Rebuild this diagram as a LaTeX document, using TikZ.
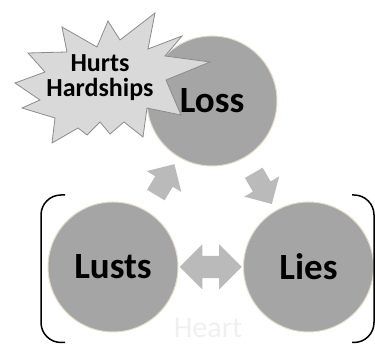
\documentclass[tikz,border=0pt]{standalone}
\usepackage{fontspec}
\setmainfont{Carlito}
\usetikzlibrary{positioning,calc,shapes.arrows}

\definecolor{circgray}{HTML}{A5A5A5}
\definecolor{rimcol}{HTML}{E4DCC8}
\definecolor{arrowgray}{HTML}{BABABA}
\definecolor{burstfill}{HTML}{D9D9D9}
\definecolor{burstline}{HTML}{8C8C8C}
\definecolor{heartgray}{HTML}{F0F0F0}

\begin{document}
\begin{tikzpicture}[
  x=1pt, y=1pt,
  bubble/.style={
        circle,
        fill=circgray,
        draw=rimcol,
        line width=1pt,
        minimum size=130pt,
        inner sep=0pt,
        font=\fontsize{37}{37}\selectfont\bfseries
  },
  blockarrow/.style={
        single arrow,
        fill=arrowgray,
        inner sep=0pt,
        inner ysep=10pt,
        single arrow head extend=10pt,
        minimum height=36pt
  },
  twoway/.style={
        double arrow,
        fill=arrowgray,
        inner sep=0pt,
        inner ysep=11pt,
        double arrow head extend=11.5pt,
        minimum height=62pt
  },
  burst/.style={
        fill=burstfill,
        draw=burstline,
        line width=0.8pt,
        line join=miter
  }
]

    \useasboundingbox (0,0) rectangle (375,344);

    \node[bubble] (loss) at (212,243) {Loss};
    \node[bubble] (lusts) at (113,77) {Lusts};
    \node[bubble, right=64.5pt of lusts] (lies) {Lies};

    % the burst sits on top of the Loss circle
    \draw[burst] (62,317) -- (97,297) -- (108,323) -- (120,304) -- (155,331)
      -- (148,295) -- (182,308) -- (165,288) -- (210,282) -- (166,264)
      -- (181,229) -- (147,236) -- (143,207) -- (124,222) -- (110,210)
      -- (100,222) -- (87,209) -- (78,216) -- (52,201) -- (55,226)
      -- (22,236) -- (40,244) -- (15,261) -- (45,272) -- (28,291)
      -- (67,292) -- cycle;
    \node[align=center, font=\fontsize{26}{25}\selectfont\bfseries] (hurts) at (100,266) {Hurts\\Hardships};

    \node[blockarrow, rotate=59] (up) at ($(lusts)!0.5!(loss)$) {};
    \node[blockarrow, rotate=-60] (down) at ($(loss)!0.5!(lies)$) {};
    \node[twoway] (both) at ($(lusts)!0.5!(lies)$) {};

    % heart brackets
    \draw[line width=1.5pt, rounded corners=20pt] (65,149) -- (41,149) -- (41,1.5) -- (65,1.5);
    \draw[line width=1.5pt, rounded corners=20pt] (352,149) -- (374,149) -- (374,1.5) -- (352,1.5);
    \node[anchor=base, inner sep=0pt, text=heartgray, font=\fontsize{30}{30}\selectfont] (heart) at (208,6) {Heart};
\end{tikzpicture}
\end{document}
